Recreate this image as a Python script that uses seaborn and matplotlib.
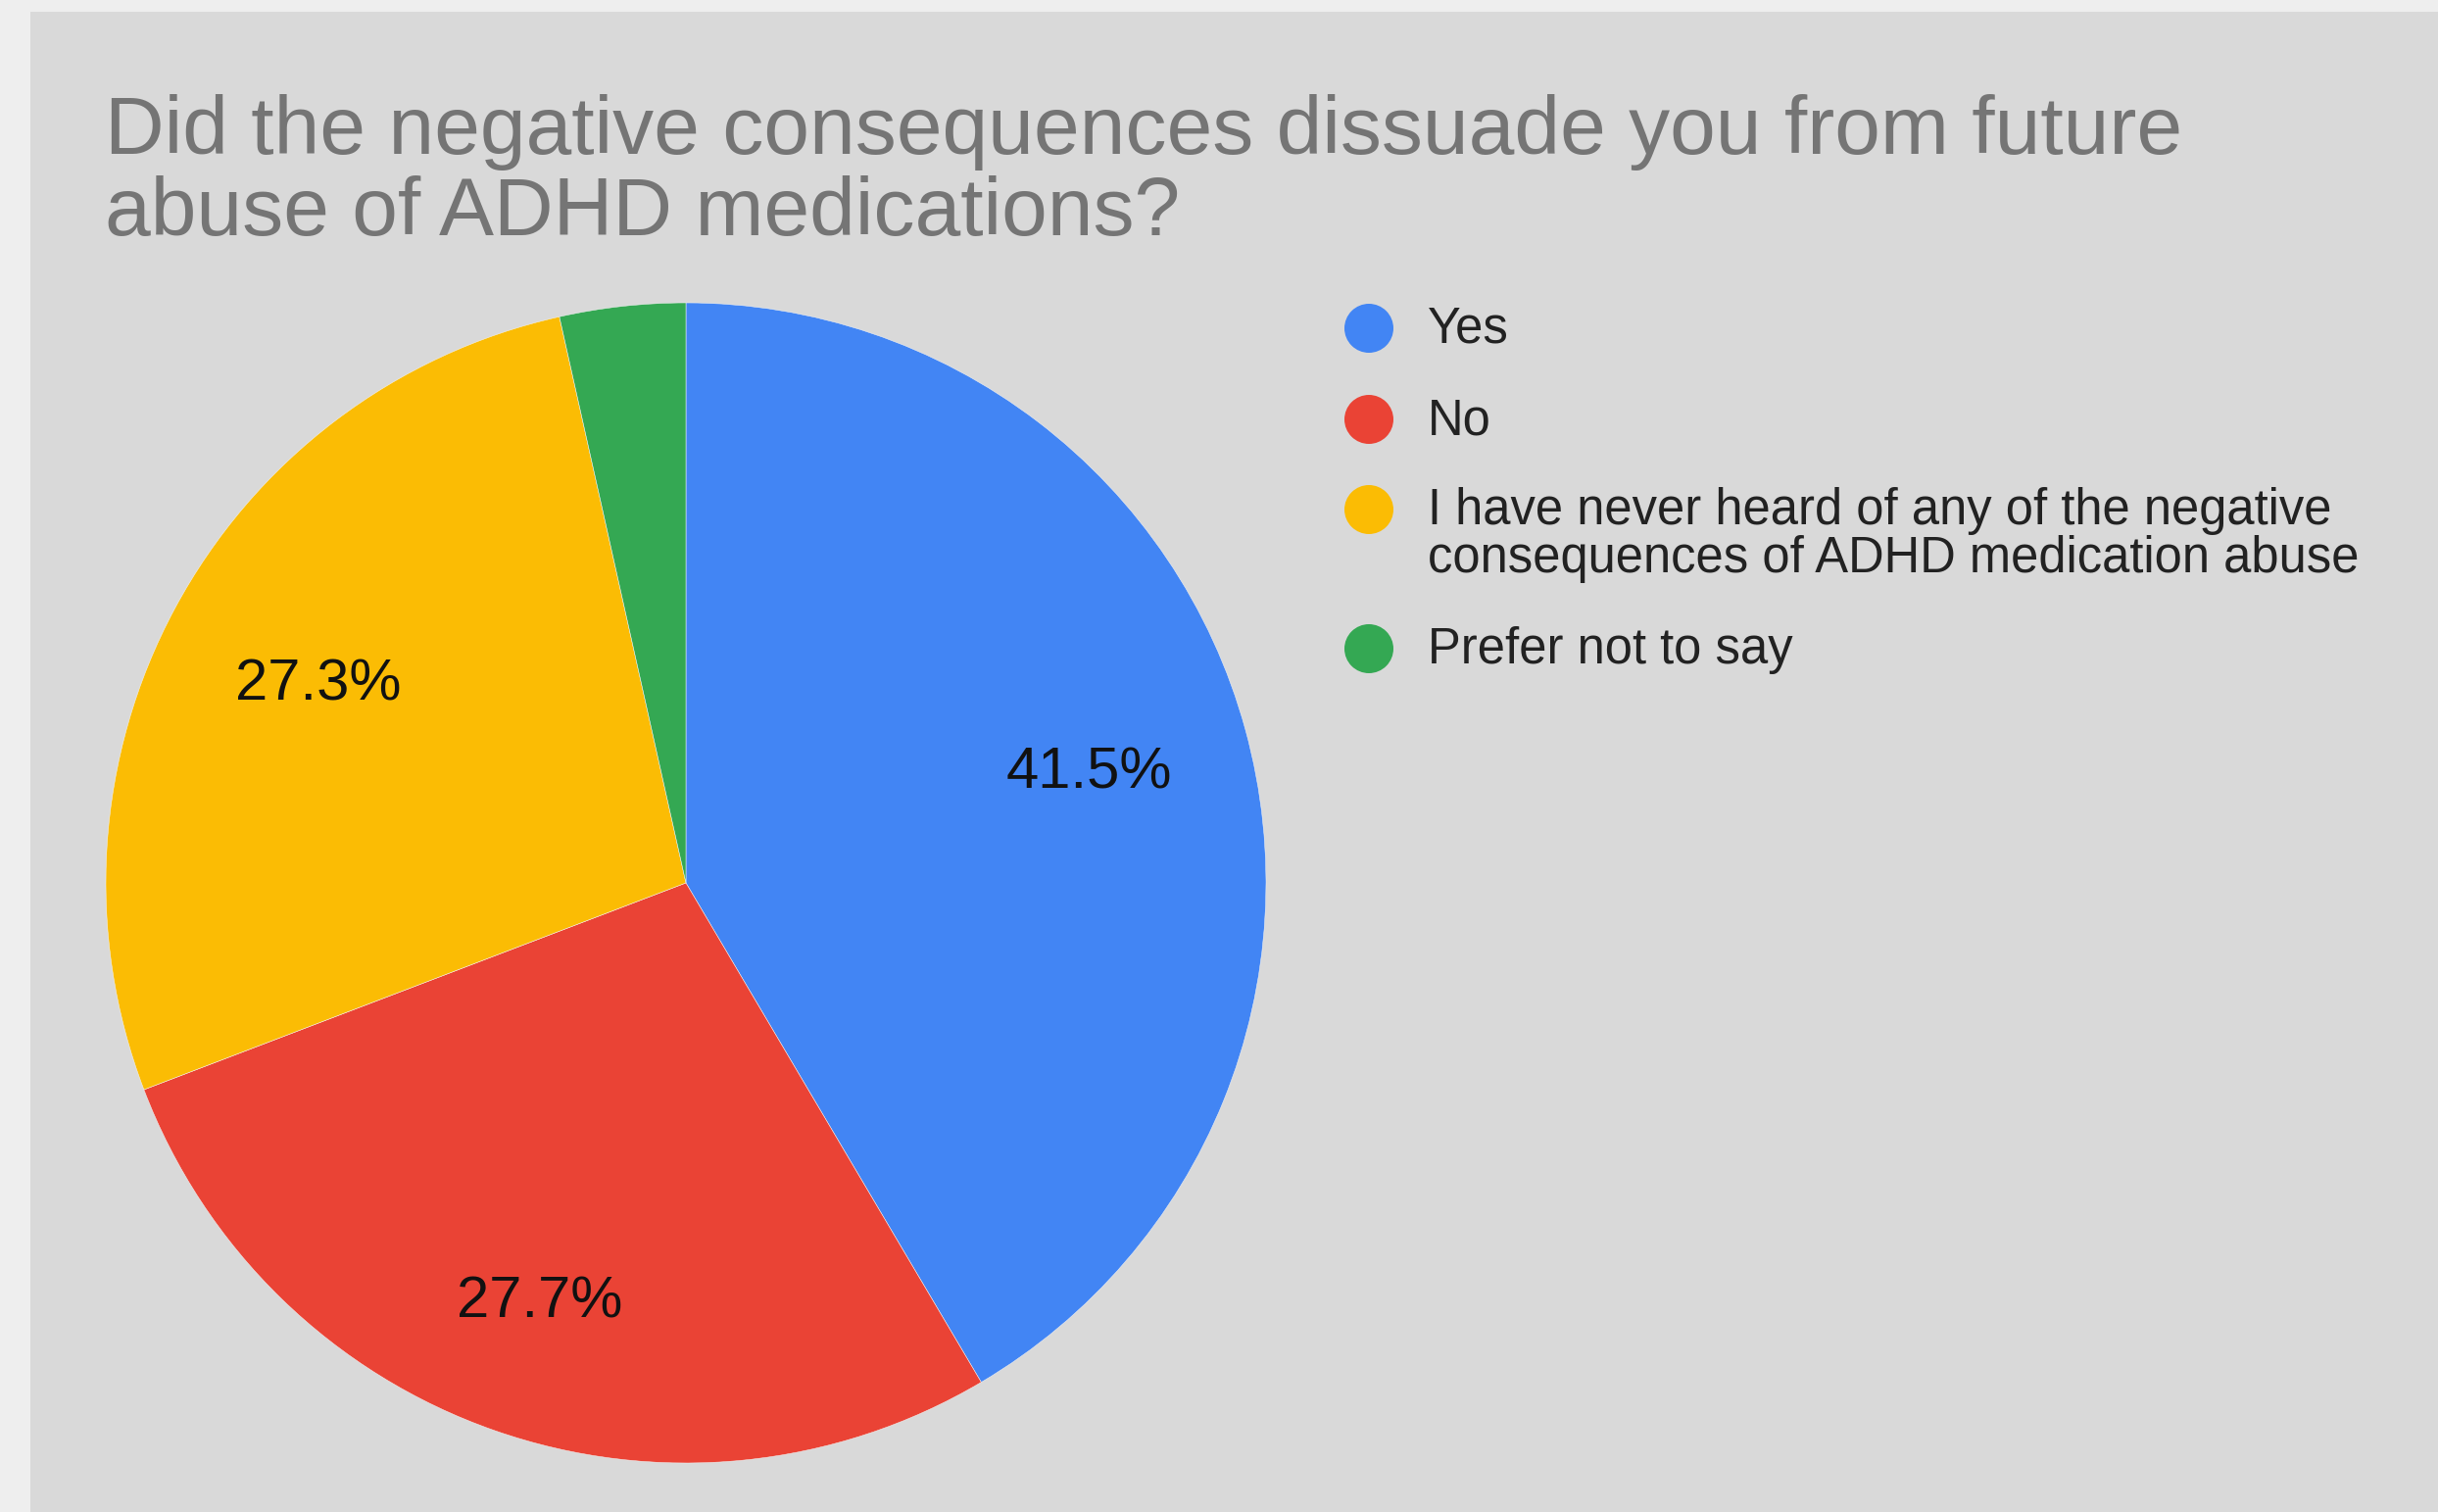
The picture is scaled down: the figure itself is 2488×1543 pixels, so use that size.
import matplotlib
matplotlib.use("Agg")
import matplotlib.pyplot as plt
import seaborn as sns
import numpy as np

# ---- data ----
categories = ["Yes", "No",
              "I have never heard of any of the negative\nconsequences of ADHD medication abuse",
              "Prefer not to say"]
values = [41.5, 27.7, 27.3, 3.5]
colors = ["#4285F4", "#EA4335", "#FBBC04", "#34A853"]
title_lines = ["Did the negative consequences dissuade you from future",
               "abuse of ADHD medications?"]

sns.set_theme(style="white")
plt.rcParams['font.family'] = ['Liberation Sans', 'DejaVu Sans']

W, H = 2488, 1543
dpi = 100
fig = plt.figure(figsize=(W / dpi, H / dpi), dpi=dpi, facecolor="#eeeeee")

# overlay axes in pixel coordinates for panel, title and legend
ov = fig.add_axes([0, 0, 1, 1])
ov.set_xlim(0, W)
ov.set_ylim(H, 0)
ov.axis("off")
ov.add_patch(plt.Rectangle((31, 12), W - 31, H - 12, facecolor="#d9d9d9",
                           edgecolor="none", zorder=0))

# title
ov.text(107, 157, title_lines[0], fontsize=60.5, color="#757575", va="baseline", ha="left")
ov.text(107, 240, title_lines[1], fontsize=60.5, color="#757575", va="baseline", ha="left")

# pie axes
cx, cy, r = 700, 901, 592
ax = fig.add_axes([(cx - r) / W, (H - cy - r) / H, 2 * r / W, 2 * r / H])
ax.set_facecolor("none")
pal = sns.color_palette(colors)
wedges, _ = ax.pie(values, colors=pal, startangle=90, counterclock=False, radius=1,
                   wedgeprops=dict(edgecolor="#f4f4f4", linewidth=0.35))
ax.set_xlim(-1, 1)
ax.set_ylim(-1, 1)
ax.set_aspect("equal")
ax.axis("off")

pct_dist = [0.72, 0.765, 0.72, 0.72]
for w, v, d in zip(wedges, values, pct_dist):
    if v < 5:
        continue
    ang = np.deg2rad((w.theta1 + w.theta2) / 2)
    ax.text(d * np.cos(ang), d * np.sin(ang), f"{v:.1f}%", fontsize=43,
            color="#111111", ha="center", va="center")

# legend
leg_y = [335, 428, 520, 662]
line_gap = 49
for lab, col, y in zip(categories, colors, leg_y):
    ov.scatter([1397], [y], s=(50 * 72 / dpi) ** 2, color=col, edgecolor="none", zorder=3)
    for i, line in enumerate(lab.split("\n")):
        ov.text(1457, y + 15 + i * line_gap, line, fontsize=36.5, color="#222222",
                va="baseline", ha="left")

fig.savefig("out.png", dpi=dpi, facecolor=fig.get_facecolor())
